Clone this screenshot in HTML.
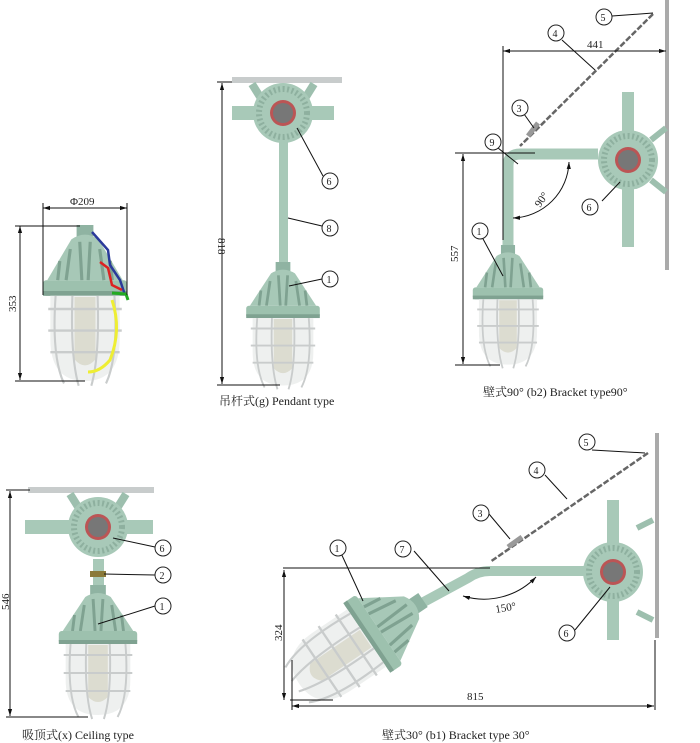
<!DOCTYPE html>
<html><head><meta charset="utf-8"><style>
html,body{margin:0;padding:0;background:#fff;}
svg{display:block;}
text{font-family:"Liberation Serif","Noto Serif CJK SC",serif;fill:#222;}
</style></head><body>
<svg width="700" height="743" viewBox="0 0 700 743" xmlns="http://www.w3.org/2000/svg">
<defs>
<marker id="ar" viewBox="0 0 10 10" refX="10" refY="5" markerWidth="7" markerHeight="7" orient="auto-start-reverse"><path d="M0,2 L10,5 L0,8 z" fill="#111"/></marker>
<g id="lamp">
  <rect x="-8" y="0" width="16" height="14" fill="#8fb3a2"/>
  <path d="M-13,12 Q0,4 13,12 L36,46 L-36,46 Z" fill="#a7c8b7"/>
  <path d="M-5,14 L-3,46 M5,14 L3,46 M-14,20 L-18,46 M14,20 L18,46 M-24,30 L-26,46 M24,30 L26,46" stroke="#7fa291" stroke-width="3"/>
  <rect x="-40" y="46" width="80" height="13" rx="3" fill="#9dc1ae"/>
  <rect x="-40" y="55" width="80" height="4" fill="#7fa291"/>
  <path d="M-33,59 L33,59 L33,95 Q33,130 0,130 Q-33,130 -33,95 Z" fill="#eef0ef"/>
  <path d="M-10,60 L10,60 L10,112 Q0,122 -10,112 Z" fill="#dcdcd0"/>
  <g fill="none" stroke="#c9cccc" stroke-width="2">
   <path d="M-35,70 L35,70 M-35,88 L35,88 M-33,106 L33,106"/>
   <path d="M-28,59 Q-32,110 -20,132 M28,59 Q32,110 20,132 M-12,59 Q-14,110 -6,134 M12,59 Q14,110 6,134"/>
  </g>
</g>
<g id="box">
  <circle r="30" fill="#a8c9b8"/>
  <circle r="24" fill="none" stroke="#8eb09f" stroke-width="6" stroke-dasharray="2 2.5"/>
  <circle r="13" fill="#b55"/>
  <circle r="10" fill="#777"/>
</g>
<g id="c"><circle r="8" fill="#fff" stroke="#222" stroke-width="1"/></g>
</defs>

<!-- ===== Left lamp (cutaway) ===== -->
<g transform="translate(85,225) scale(1.05,1.2)"><use href="#lamp"/></g>
<path d="M92,232 L108,250 L110,265 L120,280 L125,295" stroke="#2a3a9a" stroke-width="2.5" fill="none"/>
<path d="M100,262 L108,268 L112,285 L122,290" stroke="#d22" stroke-width="2.5" fill="none"/>
<path d="M112,293 L126,294 L128,300" stroke="#2a2" stroke-width="3" fill="none"/>
<path d="M112,300 Q122,330 110,360 Q100,372 88,372" stroke="#ee3" stroke-width="3" fill="none"/>
<g stroke="#111" stroke-width="1" fill="none">
 <line x1="43" y1="208" x2="127" y2="208" marker-start="url(#ar)" marker-end="url(#ar)"/>
 <line x1="43" y1="203" x2="43" y2="295"/><line x1="127" y1="203" x2="127" y2="295"/>
 <line x1="20" y1="226" x2="20" y2="380" marker-start="url(#ar)" marker-end="url(#ar)"/>
 <line x1="15" y1="226" x2="80" y2="226"/><line x1="15" y1="381" x2="85" y2="381"/>
</g>
<text x="70" y="205" font-size="11">Φ209</text>
<text transform="translate(16,312) rotate(-90)" font-size="11">353</text>

<!-- ===== Pendant ===== -->
<rect x="232" y="77" width="110" height="6" fill="#c8cccc"/>
<path d="M252,84 L262,100 M314,84 L304,100" stroke="#9dbfae" stroke-width="8"/>
<rect x="232" y="106" width="102" height="14" fill="#a8c9b8"/>
<rect x="279" y="140" width="9" height="125" fill="#a8c9b8"/>
<g transform="translate(283,113)"><use href="#box"/></g>
<g transform="translate(283,262) scale(0.92,0.95)"><use href="#lamp"/></g>
<g stroke="#111" stroke-width="1" fill="none">
 <line x1="222" y1="83" x2="222" y2="384" marker-start="url(#ar)" marker-end="url(#ar)"/>
 <line x1="217" y1="82" x2="232" y2="82"/><line x1="217" y1="385" x2="280" y2="385"/>
 <line x1="297" y1="128" x2="323" y2="176"/><line x1="288" y1="218" x2="322" y2="226"/>
 <line x1="289" y1="286" x2="322" y2="279"/>
</g>
<text transform="translate(218,238) rotate(90)" font-size="11">818</text>
<g transform="translate(330,181)"><use href="#c"/></g><text x="326.5" y="185" font-size="10">6</text>
<g transform="translate(330,228)"><use href="#c"/></g><text x="326.5" y="232" font-size="10">8</text>
<g transform="translate(330,279)"><use href="#c"/></g><text x="326.5" y="283" font-size="10">1</text>
<text x="219" y="405" font-size="12">吊杆式(g) Pendant type</text>

<!-- ===== Bracket 90 ===== -->
<rect x="665" y="0" width="4" height="270" fill="#aaa"/>
<rect x="622" y="92" width="12" height="155" fill="#a8c9b8"/>
<path d="M598,154 L520,154 Q508,154 508,166 L508,248" stroke="#a8c9b8" stroke-width="11" fill="none"/>
<path d="M651,140 L666,128 M651,180 L666,192" stroke="#9dbfae" stroke-width="6"/>
<g transform="translate(628,160)"><use href="#box"/></g>
<g transform="translate(508,245) scale(0.88,0.92)"><use href="#lamp"/></g>
<g fill="none" stroke="#666" stroke-width="2.5">
 <path d="M653,14 L520,146" stroke-dasharray="6 2"/>
 <path d="M538,123 L528,136" stroke-width="5" stroke="#999"/>
</g>
<g stroke="#111" stroke-width="1" fill="none">
 <line x1="503" y1="51" x2="666" y2="51" marker-start="url(#ar)" marker-end="url(#ar)"/>
 <line x1="503" y1="46" x2="503" y2="240"/>
 <line x1="463" y1="154" x2="463" y2="364" marker-start="url(#ar)" marker-end="url(#ar)"/>
 <line x1="455" y1="153" x2="535" y2="153"/><line x1="455" y1="365" x2="500" y2="365"/>
 <path d="M569,162 A58,58 0 0 1 513,218" marker-start="url(#ar)" marker-end="url(#ar)"/>
 <line x1="612" y1="16" x2="653" y2="13"/><line x1="562" y1="40" x2="595" y2="70"/>
 <line x1="524" y1="114" x2="534" y2="128"/><line x1="498" y1="148" x2="518" y2="164"/>
 <line x1="602" y1="201" x2="620" y2="182"/><line x1="482" y1="237" x2="503" y2="276"/>
</g>
<text transform="translate(458,262) rotate(-90)" font-size="11">557</text>
<text transform="translate(540,208) rotate(-55)" font-size="11">90°</text>
<text x="587" y="48" font-size="11">441</text>
<g transform="translate(604,17)"><use href="#c"/></g><text x="600.5" y="21" font-size="10">5</text>
<g transform="translate(556,33)"><use href="#c"/></g><text x="552.5" y="37" font-size="10">4</text>
<g transform="translate(520,108)"><use href="#c"/></g><text x="516.5" y="112" font-size="10">3</text>
<g transform="translate(493,142)"><use href="#c"/></g><text x="489.5" y="146" font-size="10">9</text>
<g transform="translate(590,207)"><use href="#c"/></g><text x="586.5" y="211" font-size="10">6</text>
<g transform="translate(480,231)"><use href="#c"/></g><text x="476.5" y="235" font-size="10">1</text>
<text x="483" y="396" font-size="12">壁式90°  (b2) Bracket  type90°</text>

<!-- ===== Ceiling ===== -->
<rect x="28" y="487" width="126" height="6" fill="#c8cccc"/>
<path d="M70,494 L80,510 M126,494 L116,510" stroke="#9dbfae" stroke-width="8"/>
<rect x="25" y="520" width="128" height="14" fill="#a8c9b8"/>
<g transform="translate(98,527)"><use href="#box"/></g>
<rect x="93" y="559" width="11" height="28" fill="#a8c9b8"/>
<rect x="90" y="571" width="16" height="6" fill="#8a7a3a"/>
<g transform="translate(98,585) scale(0.98,1.0)"><use href="#lamp"/></g>
<g stroke="#111" stroke-width="1" fill="none">
 <line x1="10" y1="491" x2="10" y2="716" marker-start="url(#ar)" marker-end="url(#ar)"/>
 <line x1="6" y1="490" x2="30" y2="490"/><line x1="6" y1="717" x2="88" y2="717"/>
 <line x1="113" y1="538" x2="155" y2="547"/><line x1="104" y1="574" x2="155" y2="575"/>
 <line x1="98" y1="624" x2="155" y2="606"/>
</g>
<text transform="translate(9,610) rotate(-90)" font-size="11">546</text>
<g transform="translate(163,548)"><use href="#c"/></g><text x="159.5" y="552" font-size="10">6</text>
<g transform="translate(163,575)"><use href="#c"/></g><text x="159.5" y="579" font-size="10">2</text>
<g transform="translate(163,606)"><use href="#c"/></g><text x="159.5" y="610" font-size="10">1</text>
<text x="22" y="739" font-size="12">吸顶式(x) Ceiling type</text>

<!-- ===== Bracket 30 ===== -->
<rect x="655" y="433" width="4" height="205" fill="#aaa"/>
<rect x="607" y="500" width="12" height="140" fill="#a8c9b8"/>
<path d="M637,528 L653,520 M637,612 L653,620" stroke="#9dbfae" stroke-width="6"/>
<path d="M585,571 L490,571 Q478,571 468,578 L420,604" stroke="#a8c9b8" stroke-width="10" fill="none"/>
<g transform="translate(613,572)"><use href="#box"/></g>
<g transform="translate(423,600) rotate(56) scale(1.05,1.15)"><use href="#lamp"/></g>
<path d="M648,453 L490,562" stroke="#666" stroke-width="2.5" stroke-dasharray="6 2" fill="none"/>
<path d="M522,537 L508,547" stroke="#999" stroke-width="5"/>
<g stroke="#111" stroke-width="1" fill="none">
 <line x1="283" y1="568" x2="490" y2="568"/>
 <line x1="284" y1="570" x2="284" y2="700" marker-start="url(#ar)" marker-end="url(#ar)"/>
 <line x1="290" y1="700" x2="333" y2="700"/>
 <line x1="292" y1="706" x2="654" y2="706" marker-start="url(#ar)" marker-end="url(#ar)"/>
 <line x1="292" y1="660" x2="292" y2="710"/><line x1="655" y1="640" x2="655" y2="710"/>
 <path d="M536,577 A72,72 0 0 1 463,596" marker-start="url(#ar)" marker-end="url(#ar)"/>
 <line x1="592" y1="450" x2="645" y2="453"/><line x1="545" y1="475" x2="567" y2="499"/>
 <line x1="489" y1="514" x2="510" y2="539"/><line x1="414" y1="551" x2="449" y2="591"/>
 <line x1="340" y1="551" x2="363" y2="601"/><line x1="575" y1="630" x2="610" y2="587"/>
</g>
<text transform="translate(282,641) rotate(-90)" font-size="11">324</text>
<text x="467" y="700" font-size="11">815</text>
<text transform="translate(496,613) rotate(-10)" font-size="11">150°</text>
<g transform="translate(587,442)"><use href="#c"/></g><text x="583.5" y="446" font-size="10">5</text>
<g transform="translate(537,470)"><use href="#c"/></g><text x="533.5" y="474" font-size="10">4</text>
<g transform="translate(481,513)"><use href="#c"/></g><text x="477.5" y="517" font-size="10">3</text>
<g transform="translate(403,549)"><use href="#c"/></g><text x="399.5" y="553" font-size="10">7</text>
<g transform="translate(338,548)"><use href="#c"/></g><text x="334.5" y="552" font-size="10">1</text>
<g transform="translate(567,633)"><use href="#c"/></g><text x="563.5" y="637" font-size="10">6</text>
<text x="382" y="739" font-size="12">壁式30°  (b1) Bracket  type 30°</text>
</svg>
</body></html>
